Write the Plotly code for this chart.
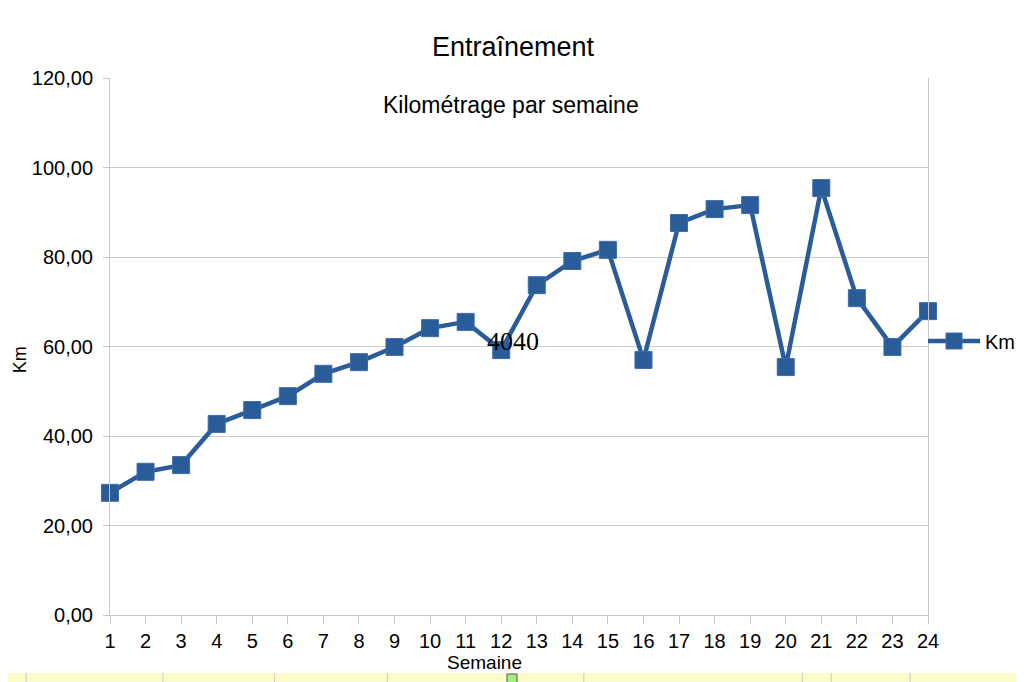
import plotly.graph_objects as go

weeks = list(range(1, 25))
km = [27.3, 32.0, 33.5, 42.7, 45.8, 48.9, 53.9, 56.5, 59.9, 64.1, 65.5, 59.2,
      73.7, 79.1, 81.6, 57.0, 87.6, 90.7, 91.6, 55.4, 95.4, 70.8, 59.9, 67.9]
y_ticks = [0, 20, 40, 60, 80, 100, 120]

color = "#2a5c99"
fnt = "Liberation Sans, Arial, sans-serif"

# page offset of the figure (body margin) is 8px; target plot area in page px:
# left 110, right 930, top 78, bottom 615
L, R, T, B = 102, 922, 70, 607
W, H = 1024, 682
pw, ph = R - L, B - T


def px(x):
    return (x - 8 - L) / pw


def py(y):
    return (B - (y - 8)) / ph


fig = go.Figure()
fig.add_trace(go.Scatter(
    x=weeks, y=km, name="Km", mode="lines+markers",
    line=dict(color=color, width=4.5),
    marker=dict(symbol="square", size=17, color=color, line=dict(color="#3b6ca8", width=1)),
    cliponaxis=False,
))

fig.update_layout(
    width=W, height=H,
    margin=dict(l=L, r=W - R, t=T, b=H - B),
    paper_bgcolor="white", plot_bgcolor="white",
    separators=", ",
    font=dict(family=fnt, color="black"),
    title=dict(text="Entraînement", x=(513 - 8) / W, xref="container", xanchor="center",
               y=1 - (47 - 8) / H, yref="container", yanchor="middle",
               font=dict(size=27, family=fnt, color="black")),
    showlegend=True,
    legend=dict(x=px(925), xanchor="left", y=py(341), yanchor="middle", itemwidth=52,
                font=dict(size=20, family=fnt), borderwidth=0, bgcolor="rgba(0,0,0,0)"),
    xaxis=dict(range=[1, 24], tickmode="array", tickvals=weeks, ticktext=[str(w) for w in weeks],
               showgrid=False, zeroline=False, showline=True, linecolor="#c8c8c8", linewidth=1,
               ticks="outside", ticklen=8, tickcolor="#c8c8c8",
               tickfont=dict(size=20, family=fnt)),
    yaxis=dict(range=[0, 120], tickmode="array", tickvals=y_ticks, tickformat=".2f",
               showgrid=True, gridcolor="#cccccc", gridwidth=1, zeroline=False,
               showline=True, linecolor="#c8c8c8", linewidth=1, mirror=True,
               ticks="outside", ticklen=6, tickcolor="#c8c8c8", ticklabelstandoff=6,
               tickfont=dict(size=20, family=fnt)),
)

fig.add_annotation(text="Kilométrage par semaine", xref="paper", yref="paper",
                   x=px(512), y=py(105), showarrow=False,
                   font=dict(size=23, family=fnt), xanchor="center", yanchor="middle")
fig.add_annotation(text="4040", xref="x", yref="y", x=12.33, y=61.2, showarrow=False,
                   font=dict(size=26, family="Liberation Serif, Times New Roman, serif", color="black"),
                   xanchor="center", yanchor="middle")
fig.add_annotation(text="Semaine", xref="paper", yref="paper",
                   x=px(485), y=py(662), showarrow=False,
                   font=dict(size=19, family=fnt), xanchor="center", yanchor="middle")
fig.add_annotation(text="Km", xref="paper", yref="paper",
                   x=px(8), y=py(360), showarrow=False, textangle=-90,
                   font=dict(size=18, family=fnt), xanchor="left", yanchor="middle")

# spreadsheet surroundings at bottom
fig.add_shape(type="rect", xref="paper", yref="paper",
              x0=px(0), x1=px(1032), y0=py(690), y1=py(673),
              fillcolor="#fdfcc8", line=dict(width=0), layer="below")
for gx in [26, 163, 275, 388, 585, 804, 833, 912]:
    fig.add_shape(type="line", xref="paper", yref="paper",
                  x0=px(gx), x1=px(gx), y0=py(690), y1=py(673),
                  line=dict(color="#c8c8c8", width=1))
fig.add_shape(type="rect", xref="paper", yref="paper",
              x0=px(508), x1=px(518), y0=py(690), y1=py(674),
              fillcolor="#a6f07a", line=dict(color="#555555", width=1))

fig.write_html("out.html")
